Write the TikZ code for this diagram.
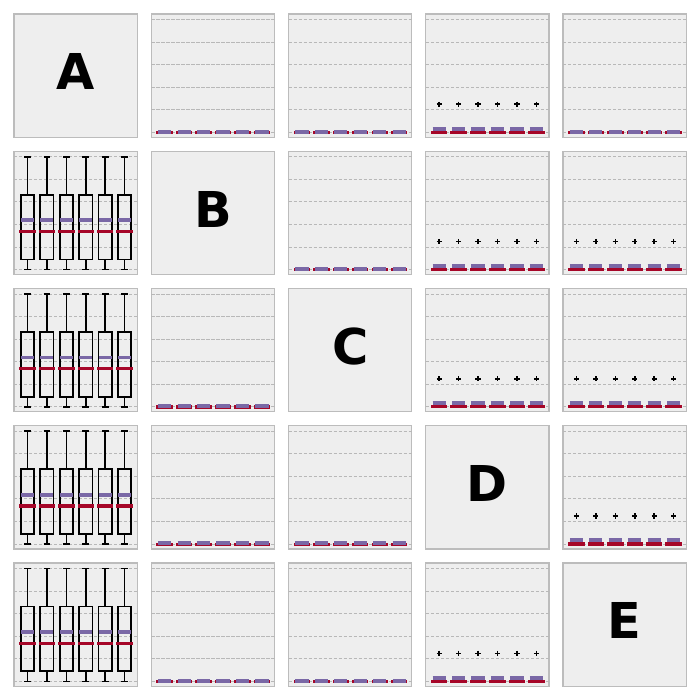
\documentclass[tikz,border=0pt]{standalone}
\usepackage{fontspec}
\setmainfont{DejaVu Sans}
\definecolor{panelbg}{HTML}{EEEEEE}
\definecolor{paneledge}{HTML}{BCBCBC}
\definecolor{gridgray}{HTML}{B8B8B8}
\definecolor{meanpurple}{HTML}{7A68A6}
\definecolor{medianred}{HTML}{A60628}

\begin{document}
\begin{tikzpicture}[x=0.5pt, y=-0.5pt]
        \useasboundingbox (0,0) rectangle (700,700);
        \fill[white] (0,0) rectangle (700,700);
        % panels
        \foreach \i in {0,...,4} {
            \foreach \j in {0,...,4} {
                \pgfmathsetmacro{\px}{14+137.25*\j}
                \pgfmathsetmacro{\py}{14+137.25*\i}
                \filldraw[fill=panelbg, draw=paneledge, line width=0.6pt] (\px,\py) rectangle (\px+123.3,\py+123.3);
                \ifnum\i=\j\else
                    \foreach \k in {0,...,5} {
                        \draw[gridgray, line width=0.45pt, dash pattern=on 1.7pt off 0.8pt] (\px,\py+5.5+22.56*\k) -- (\px+123.3,\py+5.5+22.56*\k);
                    }
                \fi
            }
        }
        % letters
        \foreach \i/\lab in {0/A, 1/B, 2/C, 3/D, 4/E} {
            \pgfmathsetmacro{\pp}{14+137.25*\i}
            \node[inner sep=0, font=\bfseries\fontsize{24.7}{30}\selectfont] at (\pp+61.65, \pp+57.8) {\lab};
        }
        % full boxplots
        \foreach \i in {1,...,4} {
            \pgfmathsetmacro{\py}{14+137.25*\i}
            \foreach \k in {0,...,5} {
                \pgfmathsetmacro{\bx}{14+13.4+19.45*\k}
                \draw[line width=0.8pt] (\bx,\py+5.5) -- (\bx,\py+43.5);
                \draw[line width=0.8pt] (\bx-3.3,\py+5.5) -- (\bx+3.3,\py+5.5);
                \draw[line width=0.8pt] (\bx,\py+108.2) -- (\bx,\py+118.3);
                \draw[line width=0.8pt] (\bx-3.3,\py+118.3) -- (\bx+3.3,\py+118.3);
                \draw[line width=0.8pt] (\bx-6.6,\py+43.5) rectangle (\bx+6.6,\py+108.2);
                \draw[medianred, line width=1.6pt, line cap=rect] (\bx-6.6,\py+80.2) -- (\bx+6.6,\py+80.2);
                \draw[meanpurple, line width=1.9pt] (\bx-6.6,\py+69) -- (\bx+6.6,\py+69);
            }
        }
        % flat boxplots
        \foreach \i/\j in {0/1, 0/2, 0/4, 1/2, 2/1, 3/1, 3/2, 4/1, 4/2} {
            \pgfmathsetmacro{\px}{14+137.25*\j}
            \pgfmathsetmacro{\py}{14+137.25*\i}
            \foreach \k in {0,...,5} {
                \pgfmathsetmacro{\bx}{\px+13.4+19.45*\k}
                \draw[medianred, line width=1.6pt, line cap=rect] (\bx-6.6,\py+118.5) -- (\bx+6.6,\py+118.5);
                \draw[meanpurple, line width=2pt] (\bx-6.6,\py+117.7) -- (\bx+6.6,\py+117.7);
            }
        }
        % flat boxplots with outliers
        \foreach \i/\j in {0/3, 1/3, 1/4, 2/3, 2/4, 3/4, 4/3} {
            \pgfmathsetmacro{\px}{14+137.25*\j}
            \pgfmathsetmacro{\py}{14+137.25*\i}
            \foreach \k in {0,...,5} {
                \pgfmathsetmacro{\bx}{\px+13.4+19.45*\k}
                \draw[medianred, line width=1.6pt, line cap=rect] (\bx-6.6,\py+118.3) -- (\bx+6.6,\py+118.3);
                \draw[meanpurple, line width=2pt] (\bx-6.6,\py+114.7) -- (\bx+6.6,\py+114.7);
                \draw[line width=0.8pt] (\bx-2.6,\py+90.3) -- (\bx+2.6,\py+90.3);
                \draw[line width=0.8pt] (\bx,\py+87.7) -- (\bx,\py+92.9);
            }
        }
\end{tikzpicture}
\end{document}
